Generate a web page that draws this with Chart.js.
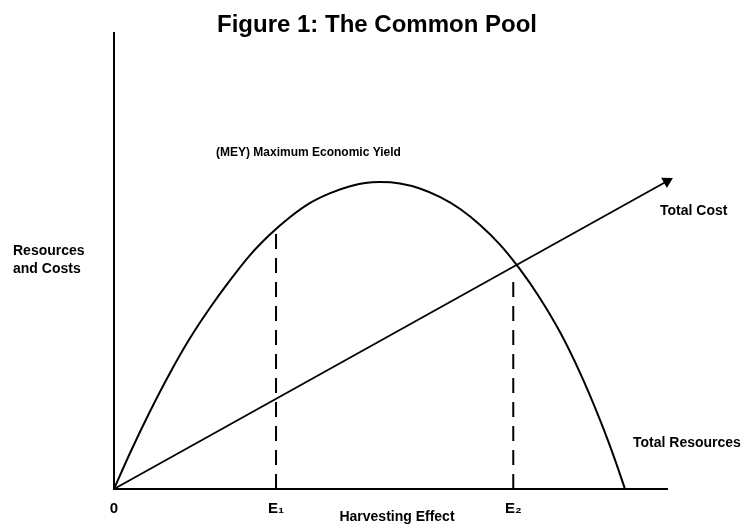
<!DOCTYPE html>
<html>
<head>
<meta charset="utf-8">
<script src="https://cdn.jsdelivr.net/npm/chart.js@4.4.1/dist/chart.umd.min.js"></script>
<style>
  html, body { margin: 0; padding: 0; background: #fff; }
  #wrap { width: 745px; height: 528px; position: relative; }
</style>
</head>
<body>
<div id="wrap"><canvas id="c" width="745" height="528"></canvas></div>
<script>
// ---- data (harvesting effort 0..100, resources/costs 0..100) ----
const tickValues = [0, 29.3, 72.2];
const tickLabels = ['0', 'E\u2081', 'E\u2082'];

const resourceEffort = [0, 2.9, 6.5, 10.1, 13.7, 17.4, 21.0, 24.6, 28.2, 31.8, 35.4, 39.1, 42.7, 45.4, 48.1,
                        51.7, 55.3, 59.0, 62.6, 66.2, 69.8, 73.4, 77.0, 80.7, 84.3, 87.9, 90.6, 92.4];
const resourceValue  = [0, 7.9, 17.0, 25.4, 33.0, 39.8, 45.8, 51.3, 55.8, 59.6, 62.7, 64.9, 66.4, 67.1, 67.3,
                        67.0, 65.9, 64.0, 61.4, 57.9, 53.6, 48.2, 41.9, 34.3, 25.4, 15.1, 6.4, 0];

const costEffort = [0, 100];
const costValue  = [0, 67.5];

const e1Effort = [29.3, 29.3];
const e1Value  = [0, 56.4];
const e2Effort = [72.2, 72.2];
const e2Value  = [0, 45.5];

const titleText = 'Figure 1: The Common Pool';
const yLabelLines = ['Resources', 'and Costs'];
const xLabelText = 'Harvesting Effect';
const meyText = '(MEY) Maximum Economic Yield';
const costText = 'Total Cost';
const resourcesText = 'Total Resources';

const zip = (xs, ys) => xs.map((x, i) => ({ x: x, y: ys[i] }));

const textPlugin = {
  id: 'texts',
  afterDraw(chart) {
    const ctx = chart.ctx;
    ctx.save();
    ctx.fillStyle = '#000';
    ctx.textBaseline = 'middle';
    ctx.font = 'bold 24px "Liberation Sans", Arial, sans-serif';
    ctx.textAlign = 'center';
    ctx.fillText(titleText, 377, 25);

    ctx.font = 'bold 14px "Liberation Sans", Arial, sans-serif';
    ctx.textAlign = 'left';
    ctx.fillText(yLabelLines[0], 13, 251);
    ctx.fillText(yLabelLines[1], 13, 269);
    ctx.fillText(costText, 660, 211);
    ctx.fillText(resourcesText, 633, 443);
    ctx.textAlign = 'center';
    ctx.fillText(xLabelText, 397, 517);

    ctx.font = 'bold 12px "Liberation Sans", Arial, sans-serif';
    ctx.textAlign = 'left';
    ctx.fillText(meyText, 216, 153);
    ctx.restore();
  }
};

const arrowAngle = 61;

new Chart(document.getElementById('c'), {
  type: 'line',
  data: {
    datasets: [
      {
        label: 'Total Resources',
        data: zip(resourceEffort, resourceValue),
        borderColor: '#000',
        borderWidth: 2,
        pointRadius: 0,
        cubicInterpolationMode: 'monotone',
        fill: false
      },
      {
        label: 'Total Cost',
        data: zip(costEffort, costValue),
        borderColor: '#000',
        backgroundColor: '#000',
        borderWidth: 1.8,
        pointRadius: [0, 5],
        pointStyle: 'triangle',
        pointRotation: arrowAngle,
        tension: 0,
        fill: false,
        clip: false
      },
      {
        label: 'E1',
        data: zip(e1Effort, e1Value),
        borderColor: '#000',
        borderWidth: 2,
        borderDash: [15, 9],
        pointRadius: 0,
        fill: false
      },
      {
        label: 'E2',
        data: zip(e2Effort, e2Value),
        borderColor: '#000',
        borderWidth: 2,
        borderDash: [15, 9],
        pointRadius: 0,
        fill: false
      }
    ]
  },
  options: {
    responsive: false,
    animation: false,
    layout: { padding: { left: 114, right: 78, top: 33, bottom: 0 } },
    plugins: {
      legend: { display: false },
      title: { display: false },
      tooltip: { enabled: false }
    },
    scales: {
      x: {
        type: 'linear',
        min: 0,
        max: 100,
        afterBuildTicks: (s) => { s.ticks = tickValues.map(v => ({ value: v })); },
        afterFit: (s) => { s.height = 39; },
        grid: { display: false, drawTicks: false },
        border: { display: true, color: '#000', width: 2 },
        ticks: {
          color: '#000',
          padding: 11,
          autoSkip: false,
          maxRotation: 0,
          font: { family: '"Liberation Sans", Arial, sans-serif', size: 15, weight: 'bold' },
          callback: (v, i) => tickLabels[i]
        }
      },
      y: {
        type: 'linear',
        min: 0,
        max: 100,
        afterFit: (s) => { s.width = 0; },
        grid: { display: false, drawTicks: false },
        border: { display: true, color: '#000', width: 2 },
        ticks: { display: false }
      }
    }
  },
  plugins: [textPlugin]
});
</script>
</body>
</html>
